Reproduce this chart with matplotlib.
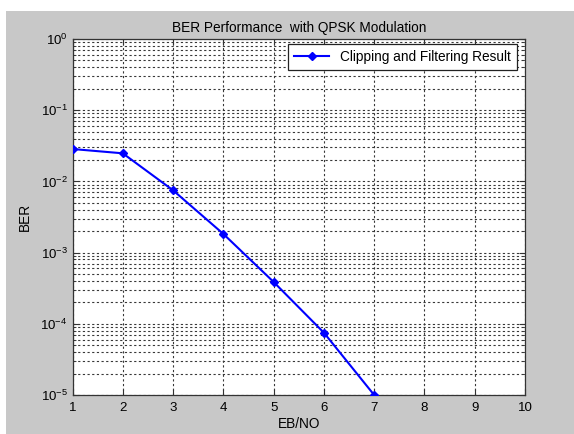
import matplotlib
matplotlib.use("Agg")
import matplotlib.pyplot as plt
from matplotlib.patches import Rectangle
from matplotlib.ticker import LogLocator, FixedLocator

plt.rcParams['font.family'] = ['Liberation Sans', 'DejaVu Sans']
plt.rcParams['mathtext.fontset'] = 'custom'
plt.rcParams['mathtext.rm'] = 'Liberation Sans'
plt.rcParams['mathtext.it'] = 'Liberation Sans:italic'

# Eb/N0 values and simulated bit error rates
ebno = [1, 2, 3, 4, 5, 6, 7]
ber = [0.0285, 0.0248, 0.0075, 0.00183, 0.000387, 7.5e-5, 1.0e-5]
series_label = "Clipping and Filtering Result"
x_ticks = [1, 2, 3, 4, 5, 6, 7, 8, 9, 10]

W, H = 574, 434
fig = plt.figure(figsize=(W / 100, H / 100), dpi=100)
fig.patch.set_facecolor('white')
# grey figure panel
fig.patches.append(Rectangle((6 / W, 0), 1 - 6 / W, 1 - 11 / H,
                             transform=fig.transFigure, facecolor='#c8c8c8',
                             edgecolor='none', zorder=-1))

left, right, top, bottom = 72.5, 525, 39, 395
ax = fig.add_axes([left / W, 1 - bottom / H, (right - left) / W, (bottom - top) / H])
ax.set_facecolor('white')

ax.semilogy(ebno, ber, color='#0000ff', linewidth=1.5, marker='D',
            markersize=4, label=series_label, zorder=3)

ax.set_xlim(1, 10)
ax.set_ylim(1e-5, 1)
ax.xaxis.set_major_locator(FixedLocator(x_ticks))
ax.yaxis.set_major_locator(LogLocator(base=10, numticks=10))
ax.yaxis.set_minor_locator(LogLocator(base=10, subs=range(2, 10), numticks=20))

grid_style = dict(color='#383838', linestyle=(0, (2, 2.2)), linewidth=0.8)
ax.grid(True, which='major', axis='both', **grid_style)
ax.grid(True, which='minor', axis='y', **grid_style)

ax.tick_params(which='both', direction='in', top=True, right=True,
               labelsize=9.5, color='#333333')
ax.tick_params(which='major', length=4)
ax.tick_params(which='minor', length=2)
ax.tick_params(axis='x', pad=5)
for s in ax.spines.values():
    s.set_color('#333333')
    s.set_linewidth(0.9)

ax.set_title("BER Performance  with QPSK Modulation", fontsize=9.8, pad=5)
ax.set_xlabel("EB/NO", fontsize=9.8, labelpad=2)
ax.set_ylabel("BER", fontsize=9.8, labelpad=6)

leg = ax.legend(loc='upper right', fontsize=9.8, fancybox=False, framealpha=1,
                edgecolor='#222222', borderpad=0.45, handlelength=2.6,
                bbox_to_anchor=(1 - 8 / (right - left), 1 - 5 / (bottom - top)),
                borderaxespad=0)
leg.get_frame().set_linewidth(0.9)

fig.savefig("out.png", dpi=100)
